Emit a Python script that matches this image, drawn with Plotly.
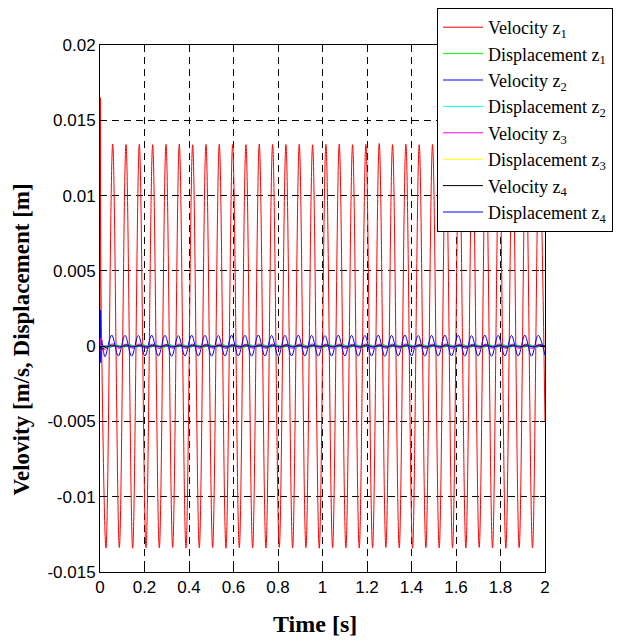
import plotly.graph_objects as go

# ---------------- data ----------------
HALF_PERIOD = 0.02995          # s, half the spacing of successive red peaks
RED_FIRST = 0.027              # s, time of first red trough
BLUE_FIRST = 0.0225
MAG_FIRST = 0.026
GREEN_FIRST = 0.042
BLACK_FIRST = 0.028

red_start_t = [0.0, 0.0015, 0.005]
red_start_v = [0.0, 0.0165, 0.0030]
red_troughs = [-0.01341, -0.01338, -0.01342, -0.01339, -0.01340, -0.01337, -0.01341, -0.01340,
               -0.01338, -0.01342, -0.01339, -0.01340, -0.01341, -0.01337, -0.01340, -0.01339,
               -0.01342, -0.01338, -0.01340, -0.01341, -0.01339, -0.01337, -0.01340, -0.01342,
               -0.01338, -0.01340, -0.01339, -0.01341, -0.01337, -0.01340, -0.01342, -0.01338,
               -0.01340]
red_peaks = [0.01342, 0.01339, 0.01341, 0.01338, 0.01340, 0.01342, 0.01337, 0.01340,
             0.01341, 0.01339, 0.01338, 0.01342, 0.01340, 0.01339, 0.01341, 0.01337,
             0.01340, 0.01342, 0.01338, 0.01340, 0.01346, 0.01339, 0.01341, 0.01338,
             0.01340, 0.01342, 0.01339, 0.01337, 0.01340, 0.01341, 0.01338, 0.01340,
             0.01339]
red_end_t, red_end_v = 2.0, -0.0050

blue_start_t = [0.0, 0.0012, 0.0035, 0.008, 0.014]
blue_start_v = [0.0, 0.0024, -0.0011, 0.0004, -0.0002]
blue_troughs = [-0.00070, -0.00066, -0.00067, -0.00065, -0.00066, -0.00068, -0.00065, -0.00066,
                -0.00067, -0.00066, -0.00065, -0.00067, -0.00066, -0.00068, -0.00065, -0.00066,
                -0.00067, -0.00066, -0.00065, -0.00067, -0.00066, -0.00068, -0.00065, -0.00066,
                -0.00067, -0.00066, -0.00065, -0.00067, -0.00066, -0.00068, -0.00065, -0.00066,
                -0.00067]
blue_peaks = [0.00074, 0.00072, 0.00071, 0.00073, 0.00072, 0.00070, 0.00073, 0.00072,
              0.00071, 0.00073, 0.00072, 0.00074, 0.00071, 0.00072, 0.00073, 0.00072,
              0.00070, 0.00073, 0.00072, 0.00071, 0.00073, 0.00072, 0.00074, 0.00071,
              0.00072, 0.00073, 0.00072, 0.00070, 0.00073, 0.00072, 0.00071, 0.00073,
              0.00072]
blue_end_t, blue_end_v = 2.0, -0.00060

mag_start_t = [0.0, 0.002, 0.005]
mag_start_v = [0.0, 0.0005, -0.0003]
mag_troughs = [-0.00018, -0.00016, -0.00015, -0.00016, -0.00017, -0.00015, -0.00016, -0.00016,
               -0.00015, -0.00017, -0.00016, -0.00015, -0.00016, -0.00017, -0.00016, -0.00015,
               -0.00016, -0.00016, -0.00017, -0.00015, -0.00016, -0.00016, -0.00015, -0.00017,
               -0.00016, -0.00015, -0.00016, -0.00017, -0.00016, -0.00015, -0.00016, -0.00016,
               -0.00017]
mag_peaks = [0.00016, 0.00014, 0.00015, 0.00014, 0.00013, 0.00015, 0.00014, 0.00014,
             0.00015, 0.00013, 0.00014, 0.00015, 0.00014, 0.00013, 0.00014, 0.00015,
             0.00014, 0.00014, 0.00013, 0.00015, 0.00014, 0.00014, 0.00015, 0.00013,
             0.00014, 0.00015, 0.00014, 0.00013, 0.00014, 0.00015, 0.00014, 0.00014,
             0.00013]
mag_end_t, mag_end_v = 2.0, -0.00005

green_start_t = [0.0, 0.012]
green_start_v = [0.0, 0.00002]
green_troughs = [-0.00013, -0.00013, -0.00012, -0.00013, -0.00013, -0.00012, -0.00013, -0.00013,
                 -0.00012, -0.00013, -0.00013, -0.00012, -0.00013, -0.00013, -0.00012, -0.00013,
                 -0.00013, -0.00012, -0.00013, -0.00013, -0.00012, -0.00013, -0.00013, -0.00012,
                 -0.00013, -0.00013, -0.00012, -0.00013, -0.00013, -0.00012, -0.00013, -0.00013,
                 -0.00012]
green_peaks = [0.00012, 0.00013, 0.00013, 0.00012, 0.00013, 0.00013, 0.00012, 0.00013,
               0.00013, 0.00012, 0.00013, 0.00013, 0.00012, 0.00013, 0.00013, 0.00012,
               0.00013, 0.00013, 0.00012, 0.00013, 0.00013, 0.00012, 0.00013, 0.00013,
               0.00012, 0.00013, 0.00013, 0.00012, 0.00013, 0.00013, 0.00012, 0.00013,
               0.00013]
green_end_t, green_end_v = 2.0, 0.0

black_start_t = [0.0, 0.003]
black_start_v = [0.0, -0.0002]
black_troughs = [-0.00007, -0.00006, -0.00006, -0.00007, -0.00006, -0.00006, -0.00007, -0.00006,
                 -0.00006, -0.00007, -0.00006, -0.00006, -0.00007, -0.00006, -0.00006, -0.00007,
                 -0.00006, -0.00006, -0.00007, -0.00006, -0.00006, -0.00007, -0.00006, -0.00006,
                 -0.00007, -0.00006, -0.00006, -0.00007, -0.00006, -0.00006, -0.00007, -0.00006,
                 -0.00006]
black_peaks = [0.00007, 0.00008, 0.00007, 0.00007, 0.00008, 0.00007, 0.00007, 0.00008,
               0.00007, 0.00007, 0.00008, 0.00007, 0.00007, 0.00008, 0.00007, 0.00007,
               0.00008, 0.00007, 0.00007, 0.00008, 0.00007, 0.00007, 0.00008, 0.00007,
               0.00007, 0.00008, 0.00007, 0.00007, 0.00008, 0.00007, 0.00007, 0.00008,
               0.00007]
black_end_t, black_end_v = 2.0, 0.0

# near-zero displacement traces
flat_t = [0.0, 0.5, 1.0, 1.5, 2.0]
cyan_v = [0.0, 0.00001, -0.00001, 0.00001, 0.0]
yellow_v = [0.0, 0.000005, -0.000005, 0.000005, 0.0]
disp4_v = [0.0, 0.000003, -0.000003, 0.000003, 0.0]

x_tick_vals = [0, 0.2, 0.4, 0.6, 0.8, 1.0, 1.2, 1.4, 1.6, 1.8, 2.0]
x_tick_text = ["0", "0.2", "0.4", "0.6", "0.8", "1", "1.2", "1.4", "1.6", "1.8", "2"]
y_tick_vals = [-0.015, -0.01, -0.005, 0, 0.005, 0.01, 0.015, 0.02]
y_tick_text = ["-0.015", "-0.01", "-0.005", "0", "0.005", "0.01", "0.015", "0.02"]

names = ["Velocity z<sub>1</sub>", "Displacement z<sub>1</sub>",
         "Velocity z<sub>2</sub>", "Displacement z<sub>2</sub>",
         "Velocity z<sub>3</sub>", "Displacement z<sub>3</sub>",
         "Velocity z<sub>4</sub>", "Displacement z<sub>4</sub>"]


def build(first, troughs, peaks, start_t, start_v, end_t, end_v):
    t = list(start_t)
    v = list(start_v)
    for i, tr in enumerate(troughs):
        t.append(first + 2 * i * HALF_PERIOD)
        v.append(tr)
        if i < len(peaks):
            t.append(first + (2 * i + 1) * HALF_PERIOD)
            v.append(peaks[i])
    t.append(end_t)
    v.append(end_v)
    return t, v


red_t, red_v = build(RED_FIRST, red_troughs, red_peaks, red_start_t, red_start_v, red_end_t, red_end_v)
blue_t, blue_v = build(BLUE_FIRST, blue_troughs, blue_peaks, blue_start_t, blue_start_v, blue_end_t, blue_end_v)
mag_t, mag_v = build(MAG_FIRST, mag_troughs, mag_peaks, mag_start_t, mag_start_v, mag_end_t, mag_end_v)
green_t, green_v = build(GREEN_FIRST, green_troughs, green_peaks, green_start_t, green_start_v, green_end_t, green_end_v)
black_t, black_v = build(BLACK_FIRST, black_troughs, black_peaks, black_start_t, black_start_v, black_end_t, black_end_v)

fig = go.Figure()
series = [
    (red_t, red_v, "#FF0000", "spline"),
    (green_t, green_v, "#00FF00", "spline"),
    (blue_t, blue_v, "#0000FF", "spline"),
    (flat_t, cyan_v, "#00FFFF", "linear"),
    (mag_t, mag_v, "#FF00FF", "spline"),
    (flat_t, yellow_v, "#FFFF00", "linear"),
    (black_t, black_v, "#000000", "spline"),
    (flat_t, disp4_v, "#0000FF", "linear"),
]
for (t, v, c, shape), nm in zip(series, names):
    fig.add_trace(go.Scatter(x=t, y=v, mode="lines", name=nm,
                             line=dict(color=c, width=1, shape=shape)))

axis_common = dict(
    showline=True, linecolor="black", linewidth=1, mirror="allticks",
    ticks="inside", ticklen=5, tickcolor="black", tickwidth=1,
    showgrid=True, gridcolor="black", gridwidth=1, griddash="7px,5px",
    zeroline=False,
    tickfont=dict(family="Liberation Sans Narrow, Arial Narrow, Liberation Sans, Arial", size=17, color="black"),
)

fig.update_xaxes(range=[0, 2], tickvals=x_tick_vals, ticktext=x_tick_text, **axis_common)
fig.update_yaxes(range=[-0.015, 0.02], tickvals=y_tick_vals, ticktext=y_tick_text, **axis_common)

# the page body adds an 8 px offset, so the figure is drawn 8 px smaller
W, H, OFF = 634, 633, 8
fig.update_layout(
    width=W, height=H,
    margin=dict(l=100 - OFF, r=W - (545 - OFF), t=45 - OFF, b=H - (572 - OFF), autoexpand=False),
    paper_bgcolor="white", plot_bgcolor="white",
    showlegend=True,
    legend=dict(
        xref="container", yref="container",
        x=(437 - OFF) / W, y=1.0, xanchor="left", yanchor="top",
        bgcolor="white", bordercolor="black", borderwidth=1,
        font=dict(family="Liberation Serif, Times New Roman, serif", size=18, color="black"),
        itemwidth=40, tracegroupgap=0,
    ),
    annotations=[
        dict(text="<b>Time [s]</b>", xref="paper", yref="paper",
             x=(315 - 100) / 445, y=-(624 - 572) / 527, showarrow=False,
             xanchor="center", yanchor="middle",
             font=dict(family="Liberation Serif, Times New Roman, serif", size=24, color="black")),
        dict(text="<b>Velovity [m/s, Displacement [m]</b>", xref="paper", yref="paper",
             x=-(100 - 21) / 445, y=(572 - 339.5) / 527, showarrow=False, textangle=-90,
             xanchor="center", yanchor="middle",
             font=dict(family="Liberation Serif, Times New Roman, serif", size=23, color="black")),
    ],
)

fig.write_html("out.html")
